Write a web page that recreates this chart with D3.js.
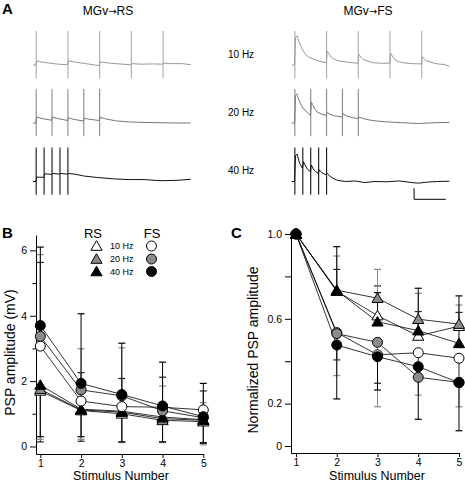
<!DOCTYPE html>
<html><head><meta charset="utf-8">
<script src="https://cdn.jsdelivr.net/npm/d3@7"></script>
<style>body{margin:0;background:#fff}svg{display:block;font-family:"Liberation Sans",Arial,sans-serif}</style>
</head><body><svg id="c" width="465" height="484"></svg>
<script>
// ---------- Panel A: example traces (time ms, voltage mV) ----------
const rateLabels = ["10 Hz", "20 Hz", "40 Hz"];
const pulseTimes10 = [10, 110, 210, 310, 410];
const pulseTimes20 = [10, 60, 110, 160, 210];
const pulseTimes40 = [10, 35, 60, 85, 110];
const artifactRange = [-2.4, 6.2];
const rsTrace10 = [[0,0],[9,0],[12,0.75],[20,0.6],[50,0.35],[80,0.15],[108,0.05],[112,0.75],[130,0.55],[160,0.3],[190,0.05],[208,-0.1],[212,0.55],[240,0.35],[270,0.2],[308,0.05],[312,0.25],[340,0.15],[380,0.2],[408,0.15],[412,0.35],[430,0.25],[470,0.25],[497,0.05]];
const rsTrace20 = [[0,0],[9,0],[12,1.1],[25,0.85],[59,0.5],[62,1.1],[75,0.85],[109,0.45],[112,0.95],[125,0.7],[159,0.35],[162,0.9],[175,0.7],[209,0.45],[212,1.05],[225,0.8],[260,0.4],[300,0.2],[350,0.1],[400,0.05],[450,0],[497,0]];
const rsTrace40 = [[0,0],[9,0],[12,0.8],[34,0.75],[37,1.4],[59,1.3],[62,1.45],[84,1.35],[87,1.45],[109,1.35],[112,1.45],[130,1.35],[160,1.0],[200,0.75],[250,0.5],[300,0.35],[350,0.35],[400,0.15],[450,0.2],[497,0.4]];
const fsTrace10 = [[0,0],[9,0],[12,5.0],[17,5.3],[22,4.3],[28,3.5],[36,2.6],[44,1.9],[55,1.4],[65,1.15],[86,0.7],[109,0.4],[112,2.5],[120,1.8],[126,1.3],[140,0.9],[152,0.7],[180,0.5],[209,0.3],[212,1.9],[220,1.3],[226,1.0],[245,0.6],[258,0.4],[290,0.3],[309,0.35],[312,2.1],[320,1.4],[326,0.9],[340,0.55],[352,0.4],[380,0.25],[409,0.2],[412,1.5],[420,1.0],[426,0.75],[445,0.4],[460,0.2],[480,0.1],[497,-0.2]];
const fsTrace20 = [[0,0],[9,0],[12,5.0],[16,5.3],[22,4.3],[28,3.5],[38,2.5],[44,2.3],[52,1.7],[59,1.4],[62,3.8],[66,3.4],[72,2.6],[80,2.0],[95,1.6],[109,1.4],[112,2.0],[120,1.6],[135,1.3],[159,1.1],[162,1.7],[172,1.3],[190,1.0],[209,0.8],[212,1.1],[225,0.8],[250,0.5],[270,0.35],[300,0.2],[350,0.05],[400,-0.1],[450,0.05],[497,0.1]];
const fsTrace40 = [[0,0],[9,0],[12,4.7],[17,5.0],[25,3.3],[34,2.4],[37,3.6],[42,3.0],[50,2.2],[59,1.8],[62,3.0],[68,2.3],[75,1.8],[84,1.5],[87,2.1],[95,1.6],[109,1.2],[112,1.5],[120,1.0],[130,0.6],[145,0.2],[170,0],[200,0.1],[230,-0.2],[260,0],[300,-0.05],[340,0.1],[380,-0.2],[400,-0.3],[430,-0.1],[460,0],[497,0.05]];
const scaleBarMs = 100, scaleBarMv = 2;

// ---------- Panel B: PSP amplitude (mV) ----------
const stimuli = [1, 2, 3, 4, 5];
const rsAmp10 = [1.70, 1.10, 1.00, 0.80, 0.76];
const rsAmp20 = [1.75, 1.12, 1.05, 0.85, 0.80];
const rsAmp40 = [1.88, 1.14, 1.08, 0.90, 0.82];
const fsAmp10 = [3.07, 1.39, 1.22, 1.20, 1.12];
const fsAmp20 = [3.37, 1.73, 1.55, 1.09, 0.88];
const fsAmp40 = [3.70, 1.93, 1.59, 1.24, 0.91];
const rsAmpErr10 = [1.56, 0.94, 0.87, 0.67, 0.64];
const rsAmpErr20 = [1.53, 0.90, 0.93, 0.73, 0.75];
const rsAmpErr40 = [1.58, 0.84, 0.94, 0.76, 0.72];
const fsAmpErr10 = [2.56, 0.87, 0.86, 0.92, 0.58];
const fsAmpErr20 = [2.50, 1.26, 1.47, 0.76, 0.46];
const fsAmpErr40 = [2.40, 2.13, 1.57, 1.34, 1.02];
const ampTicks = [0, 2, 4, 6];
const ampMinorTicks = [1, 3, 5];

// ---------- Panel C: normalized PSP amplitude ----------
const rsNorm10 = [1, 0.730, 0.615, 0.519, 0.565];
const rsNorm20 = [1, 0.735, 0.697, 0.598, 0.575];
const rsNorm40 = [1, 0.733, 0.586, 0.544, 0.484];
const fsNorm10 = [1, 0.535, 0.430, 0.440, 0.414];
const fsNorm20 = [1, 0.530, 0.489, 0.324, 0.300];
const fsNorm40 = [1, 0.476, 0.421, 0.374, 0.299];
const rsNormErr10 = [0, 0.103, 0.140, 0.115, 0.065];
const rsNormErr20 = [0, 0.161, 0.136, 0.122, 0.090];
const rsNormErr40 = [0, 0.207, 0.137, 0.200, 0.224];
const fsNormErr10 = [0, 0.129, 0.134, 0.070, 0.104];
const fsNormErr20 = [0, 0.198, 0.304, 0.084, 0.115];
const fsNormErr40 = [0, 0.254, 0.157, 0.248, 0.227];
const normTicks = [0, 0.2, 0.6, 1.0];
const normMinorTicks = [0.4, 0.8];

// ================= drawing =================
const svg = d3.select("#c");
const FONT = '"Liberation Sans", Arial, sans-serif';

// Panel labels
svg.append("text").attr("x", 2).attr("y", 14).attr("font-weight", "bold").attr("font-size", 15).text("A");
svg.append("text").attr("x", 2).attr("y", 238).attr("font-weight", "bold").attr("font-size", 15).text("B");
svg.append("text").attr("x", 231).attr("y", 238).attr("font-weight", "bold").attr("font-size", 15).text("C");

// ---- Panel A ----
function titleWithArrow(cx, cy, left, right) {
  const t = svg.append("text").attr("x", cx).attr("y", cy).attr("text-anchor", "middle").attr("font-size", 12);
  t.append("tspan").text(left);
  t.append("tspan").attr("font-family", '"DejaVu Sans"').attr("font-size", 10).attr("dy", -0.5).text("\u2192");
  t.append("tspan").attr("dy", 0.5).text(right);
}
titleWithArrow(108, 15, "MGv", "RS");
titleWithArrow(368, 15, "MGv", "FS");

const rowBase = [65, 123, 181.5];
const mvPx = 5.5;
const tRS = d3.scaleLinear().domain([0, 497]).range([33, 190.7]);
const tFS = d3.scaleLinear().domain([0, 497]).range([291.7, 449.3]);
const traceColors = ["#999", "#777", "#111"];
const artColors = ["#aaa", "#888", "#111"];
const pulses = [pulseTimes10, pulseTimes20, pulseTimes40];
const rsTraces = [rsTrace10, rsTrace20, rsTrace40];
const fsTraces = [fsTrace10, fsTrace20, fsTrace40];

rateLabels.forEach((lab, i) => {
  svg.append("text").attr("x", 228).attr("y", [58, 116, 174][i]).attr("font-size", 10).text(lab);
});

function drawTrace(data, tScale, row) {
  const v = d3.scaleLinear().domain([0, 1]).range([rowBase[row], rowBase[row] - mvPx]);
  const g = svg.append("g");
  pulses[row].forEach(t => {
    g.append("line").attr("x1", tScale(t)).attr("x2", tScale(t))
      .attr("y1", v(artifactRange[0])).attr("y2", v(artifactRange[1]))
      .attr("stroke", artColors[row]).attr("stroke-width", 1.1);
  });
  const line = d3.line().x(d => tScale(d[0])).y(d => v(d[1]));
  g.append("path").attr("d", line(data)).attr("fill", "none")
    .attr("stroke", traceColors[row]).attr("stroke-width", 1);
}
rsTraces.forEach((d, i) => drawTrace(d, tRS, i));
fsTraces.forEach((d, i) => drawTrace(d, tFS, i));

// scale bar
{
  const v = d3.scaleLinear().domain([0, 1]).range([199.3, 199.3 - mvPx]);
  const x0 = tFS(386), x1 = tFS(386 + scaleBarMs);
  svg.append("path").attr("d", `M${x0},${v(scaleBarMv)}V${v(0)}H${x1}`)
    .attr("fill", "none").attr("stroke", "#000").attr("stroke-width", 1);
}

// ---- marker helpers ----
const fills = ["#fff", "#8a8a8a", "#000"];
const errColors = ["#222", "#8a8a8a", "#000"];
const triPath = "M0,-5.3L5.6,4.3L-5.6,4.3Z";
function marker(g, type, x, y, fill) {
  if (type === "tri") {
    g.append("path").attr("d", triPath).attr("transform", `translate(${x},${y})`)
      .attr("fill", fill).attr("stroke", "#000").attr("stroke-width", 1);
  } else {
    g.append("circle").attr("cx", x).attr("cy", y).attr("r", 5)
      .attr("fill", fill).attr("stroke", "#000").attr("stroke-width", 1);
  }
}

function drawPanel(opts) {
  const { x, y, series, yTicks, yMinor, yFmt, minorLen, yTitle, yTitleX, titleCX } = opts;
  const g = svg.append("g");
  // axes
  const ax = d3.axisBottom(x).tickValues(stimuli).tickSize(4).tickSizeOuter(0).tickPadding(2).tickFormat(d3.format("d"));
  const gx = g.append("g").attr("transform", `translate(0,${y.range()[0]})`).call(ax);
  const ay = d3.axisLeft(y).tickValues(yTicks).tickSize(6).tickSizeOuter(0).tickPadding(3).tickFormat(yFmt);
  const gy = g.append("g").attr("transform", `translate(${x.range()[0]},0)`).call(ay);
  const ay2 = d3.axisLeft(y).tickValues(yMinor).tickSize(minorLen).tickSizeOuter(0).tickFormat("");
  const gy2 = g.append("g").attr("transform", `translate(${x.range()[0]},0)`).call(ay2);
  gy2.select(".domain").remove();
  [gx, gy, gy2].forEach(a => {
    a.attr("font-family", FONT).attr("font-size", 10.5);
    a.selectAll("path,line").attr("stroke", "#000").attr("stroke-width", 1);
    a.selectAll("text").attr("fill", "#000");
  });
  // titles
  g.append("text").attr("x", titleCX).attr("y", 480).attr("text-anchor", "middle").attr("font-size", 12.5).text("Stimulus Number");
  const ym = (y.range()[0] + y.range()[1]) / 2 + 8;
  g.append("text").attr("transform", `translate(${yTitleX},${ym}) rotate(-90)`).attr("text-anchor", "middle")
    .attr("font-size", 14).text(yTitle);
  // error bars (one-sided)
  series.forEach(s => {
    s.vals.forEach((v, i) => {
      const e = s.err[i];
      if (!e) return;
      const end = v + s.dir * e;
      const cx = x(stimuli[i]);
      g.append("line").attr("x1", cx).attr("x2", cx).attr("y1", y(v)).attr("y2", y(end))
        .attr("stroke", errColors[s.c]).attr("stroke-width", 1);
      g.append("line").attr("x1", cx - 3.5).attr("x2", cx + 3.5).attr("y1", y(end)).attr("y2", y(end))
        .attr("stroke", errColors[s.c]).attr("stroke-width", 1.2);
    });
  });
  // lines
  const line = d3.line().x((d, i) => x(stimuli[i])).y(d => y(d));
  series.forEach(s => {
    g.append("path").attr("d", line(s.vals)).attr("fill", "none").attr("stroke", "#000").attr("stroke-width", 0.8);
  });
  // markers
  series.forEach(s => {
    s.vals.forEach((v, i) => marker(g, s.type, x(stimuli[i]), y(v), fills[s.c]));
  });
}

// ---- Panel B ----
const xB = d3.scaleLinear().domain([0.894, 5.0]).range([36, 203.3]);
const yB = d3.scaleLinear().domain([-0.23, 6.47]).range([454, 235]);
drawPanel({
  x: xB, y: yB, yTicks: ampTicks, yMinor: ampMinorTicks, minorLen: 3.5, yFmt: d3.format("d"),
  yTitle: "PSP amplitude (mV)", yTitleX: 15, titleCX: 121,
  series: [
    { type: "tri", c: 0, vals: rsAmp10, err: rsAmpErr10, dir: -1 },
    { type: "tri", c: 1, vals: rsAmp20, err: rsAmpErr20, dir: -1 },
    { type: "tri", c: 2, vals: rsAmp40, err: rsAmpErr40, dir: -1 },
    { type: "circ", c: 0, vals: fsAmp10, err: fsAmpErr10, dir: 1 },
    { type: "circ", c: 1, vals: fsAmp20, err: fsAmpErr20, dir: 1 },
    { type: "circ", c: 2, vals: fsAmp40, err: fsAmpErr40, dir: 1 }
  ]
});

// legend
{
  const g = svg.append("g");
  g.append("text").attr("x", 93).attr("y", 238).attr("text-anchor", "middle").attr("font-size", 13).text("RS");
  g.append("text").attr("x", 152).attr("y", 238).attr("text-anchor", "middle").attr("font-size", 13).text("FS");
  const ly = [246, 259, 271.5];
  rateLabels.forEach((lab, i) => {
    marker(g, "tri", 96.5, ly[i], fills[i]);
    marker(g, "circ", 151.5, ly[i], fills[i]);
    g.append("text").attr("x", 110).attr("y", ly[i] + 3.3).attr("font-size", 9).text(lab);
  });
}

// ---- Panel C ----
const xC = d3.scaleLinear().domain([0.877, 5.01]).range([291, 459.4]);
const yC = d3.scaleLinear().domain([-0.033, 1.014]).range([453, 231]);
drawPanel({
  x: xC, y: yC, yTicks: normTicks, yMinor: normMinorTicks, minorLen: 6,
  yFmt: d => d === 0 ? "0" : d3.format(".1f")(d),
  yTitle: "Normalized PSP amplitude", yTitleX: 258, titleCX: 377,
  series: [
    { type: "tri", c: 0, vals: rsNorm10, err: rsNormErr10, dir: 1 },
    { type: "tri", c: 1, vals: rsNorm20, err: rsNormErr20, dir: 1 },
    { type: "tri", c: 2, vals: rsNorm40, err: rsNormErr40, dir: 1 },
    { type: "circ", c: 0, vals: fsNorm10, err: fsNormErr10, dir: -1 },
    { type: "circ", c: 1, vals: fsNorm20, err: fsNormErr20, dir: -1 },
    { type: "circ", c: 2, vals: fsNorm40, err: fsNormErr40, dir: -1 }
  ]
});
</script></body></html>
